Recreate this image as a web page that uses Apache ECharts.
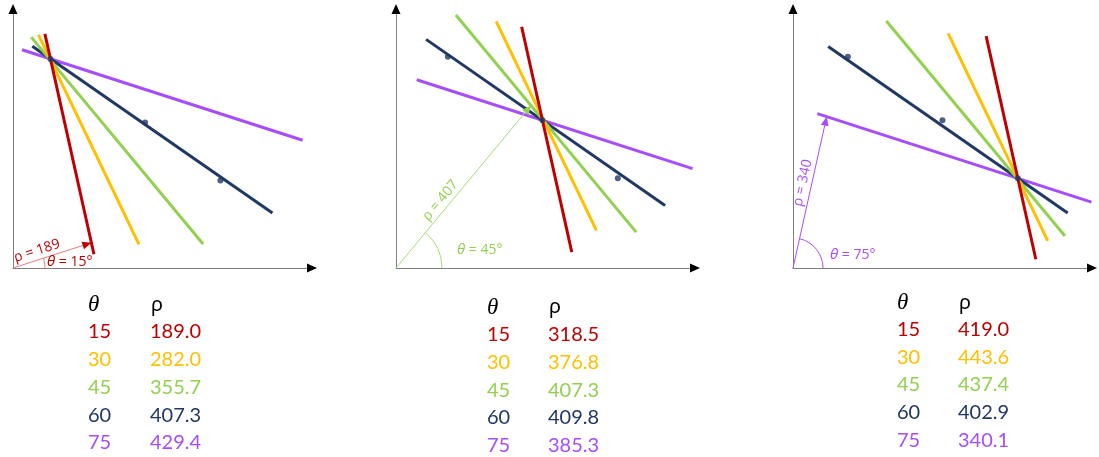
<!DOCTYPE html>
<html>
<head>
<meta charset="utf-8">
<script src="https://cdn.jsdelivr.net/npm/echarts@6/dist/echarts.min.js"></script>
<style>
  html, body { margin: 0; padding: 0; background: #ffffff; }
  #chart { width: 1099px; height: 457px; }
</style>
</head>
<body>
<div id="chart"></div>
<script>
// Hough transform sketch: lines x·cosθ + y·sinθ = ρ swept through each of three collinear points.
const thetaDeg = [15, 30, 45, 60, 75];
const rhoPointA = [189.0, 282.0, 355.7, 407.3, 429.4];
const rhoPointB = [318.5, 376.8, 407.3, 409.8, 385.3];
const rhoPointC = [419.0, 443.6, 437.4, 402.9, 340.1];
const pointX = [82.5, 240.1, 365.7];
const pointY = [422.5, 334.6, 254.1];

const lineColors = ['#C00000', '#FFC000', '#92D050', '#203864', '#A64DFF'];
const normalColors = ['#EE7B7B', '#FFC000', '#A6DD72', '#203864', '#A64DFF'];
const X_SPAN = 500, Y_SPAN = 360;

// per-panel layout: grid placement, axis origin, visible reach of each line around the swept point
const panels = [
  { rho: rhoPointA, point: 0, marked: 0, left: 13, xMin: 20, yMin: 133,
    reach: [[-36, 280], [-39, 296], [-44, 361], [-35, 427], [-49, 435]],
    arcR: 32, labelAt: 0.34, thetaDx: 34, thetaDy: -6,
    table: { xT: 88, xR: 150, head: 305, row0: 332 } },
  { rho: rhoPointB, point: 1, marked: 2, left: 396, xMin: -4, yMin: 130,
    reach: [[-134, 189], [-157, 177], [-205, 220], [-224, 236], [-217, 259]],
    arcR: 46, labelAt: 0.38, thetaDx: 61, thetaDy: -18,
    table: { xT: 487, xR: 548, head: 307.5, row0: 334.7 } },
  { rho: rhoPointC, point: 2, marked: 4, left: 793, xMin: -9, yMin: 130,
    reach: [[-204, 116], [-232, 100], [-309, 112], [-365, 96], [-346, 127]],
    arcR: 30, labelAt: 0.55, thetaDx: 37, thetaDy: -13,
    table: { xT: 897, xR: 958, head: 303, row0: 329.5 } }
];
const ROW_STEP = 27.7;

function arrowHead(tip, ux, uy, len, half, color) {
  // ux, uy: unit direction in pixel space pointing toward the tip
  const bx = tip[0] - ux * len, by = tip[1] - uy * len;
  return {
    type: 'polygon',
    shape: { points: [[tip[0], tip[1]], [bx - uy * half, by + ux * half], [bx + uy * half, by - ux * half]] },
    style: { fill: color }
  };
}

function makeRenderer(panel) {
  return function (params, api) {
    const i = params.dataIndex;
    const th = api.value(0) * Math.PI / 180;
    const rho = api.value(1);
    const n = [Math.cos(th), Math.sin(th)];
    const d = [Math.sin(th), -Math.cos(th)];
    const px = pointX[panel.point], py = pointY[panel.point];
    const t0 = px * d[0] + py * d[1];
    const r = panel.reach[i];
    const at = t => api.coord([rho * n[0] + (t0 + t) * d[0], rho * n[1] + (t0 + t) * d[1]]);
    const a = at(r[0]), b = at(r[1]);
    const children = [{
      type: 'line', z2: 10 - i,
      shape: { x1: a[0], y1: a[1], x2: b[0], y2: b[1] },
      style: { stroke: lineColors[i], lineWidth: 3, lineCap: 'butt' }
    }];

    if (i === 0) {
      // black arrowheads on both axes
      const xe = api.coord([panel.xMin + X_SPAN, panel.yMin]);
      const ye = api.coord([panel.xMin, panel.yMin + Y_SPAN]);
      children.push(arrowHead([xe[0] + 4, xe[1]], 1, 0, 10, 4.5, '#000'));
      children.push(arrowHead([ye[0], ye[1] - 4], 0, -1, 10, 4.5, '#000'));
    }

    if (i === panel.marked) {
      // normal vector from the axes corner to this line, with its angle
      const c = [panel.xMin, panel.yMin];
      const len = rho - (c[0] * n[0] + c[1] * n[1]);
      const pc = api.coord(c);
      const pf = api.coord([c[0] + len * n[0], c[1] + len * n[1]]);
      const dx = pf[0] - pc[0], dy = pf[1] - pc[1];
      const plen = Math.sqrt(dx * dx + dy * dy);
      const ux = dx / plen, uy = dy / plen;
      const phi = Math.atan2(-dy, dx);
      const col = lineColors[i], soft = normalColors[i];
      children.push({
        type: 'line', z2: 20,
        shape: { x1: pc[0], y1: pc[1], x2: pf[0] - ux * 7, y2: pf[1] - uy * 7 },
        style: { stroke: soft, lineWidth: 1 }
      });
      const head = arrowHead(pf, ux, uy, 9, 4, col);
      head.z2 = 21;
      children.push(head);
      children.push({
        type: 'arc', z2: 20,
        shape: { cx: pc[0], cy: pc[1], r: panel.arcR, startAngle: -phi, endAngle: 0, clockwise: true },
        style: { stroke: soft, fill: null, lineWidth: 1 }
      });
      const lx = pc[0] + dx * panel.labelAt, ly = pc[1] + dy * panel.labelAt;
      children.push({
        type: 'text', z2: 22, x: lx, y: ly, rotation: phi,
        style: {
          text: 'ρ = ' + Math.round(rho), x: 0, y: -2,
          fill: col, font: '14px "Open Sans"', align: 'center', verticalAlign: 'bottom'
        }
      });
      children.push({
        type: 'text', z2: 22, x: pc[0] + panel.thetaDx, y: pc[1] + panel.thetaDy,
        style: {
          text: '{i|θ} = ' + api.value(0) + '°',
          fill: col, font: '14px "Open Sans"', align: 'left', verticalAlign: 'middle',
          rich: { i: { fontStyle: 'italic', fontFamily: 'Open Sans', fontSize: 15, fill: col } }
        }
      });
    }
    return { type: 'group', children: children };
  };
}

const grids = [], xAxes = [], yAxes = [], series = [], graphic = [];
const axisLook = {
  show: true,
  axisLine: { show: true, onZero: false, lineStyle: { color: '#7F7F7F', width: 1 } },
  axisTick: { show: false }, axisLabel: { show: false }, splitLine: { show: false }
};

panels.forEach(function (p, k) {
  grids.push({ left: p.left, top: 8, width: 300, height: 260 });
  xAxes.push(Object.assign({ type: 'value', gridIndex: k, min: p.xMin, max: p.xMin + X_SPAN }, axisLook));
  yAxes.push(Object.assign({ type: 'value', gridIndex: k, min: p.yMin, max: p.yMin + Y_SPAN }, axisLook));
  series.push({
    type: 'custom', xAxisIndex: k, yAxisIndex: k, clip: false, z: 2,
    renderItem: makeRenderer(p),
    data: thetaDeg.map((t, i) => [t, p.rho[i]])
  });
  series.push({
    type: 'scatter', xAxisIndex: k, yAxisIndex: k, z: 5, silent: true,
    symbolSize: 6, itemStyle: { color: '#203864' },
    data: pointX.map((x, j) => [x, pointY[j]])
  });

  // θ / ρ table under each panel
  const tb = p.table;
  graphic.push({ type: 'text', x: tb.xT, y: tb.head,
    style: { text: 'θ', fill: '#000', font: 'italic 23px "Liberation Serif"', verticalAlign: 'middle' } });
  graphic.push({ type: 'text', x: tb.xR + 1, y: tb.head,
    style: { text: 'ρ', fill: '#000', font: '20px "Noto Sans"', verticalAlign: 'middle' } });
  thetaDeg.forEach(function (t, i) {
    const y = tb.row0 + i * ROW_STEP;
    graphic.push({ type: 'text', x: tb.xT, y: y,
      style: { text: String(t), fill: lineColors[i], font: '20px Lato', verticalAlign: 'middle' } });
    graphic.push({ type: 'text', x: tb.xR, y: y,
      style: { text: p.rho[i].toFixed(1), fill: lineColors[i], font: '20px Lato', verticalAlign: 'middle' } });
  });
});

const chart = echarts.init(document.getElementById('chart'), null, { renderer: 'canvas' });
chart.setOption({
  animation: false,
  backgroundColor: '#ffffff',
  grid: grids,
  xAxis: xAxes,
  yAxis: yAxes,
  series: series,
  graphic: graphic
});
</script>
</body>
</html>
